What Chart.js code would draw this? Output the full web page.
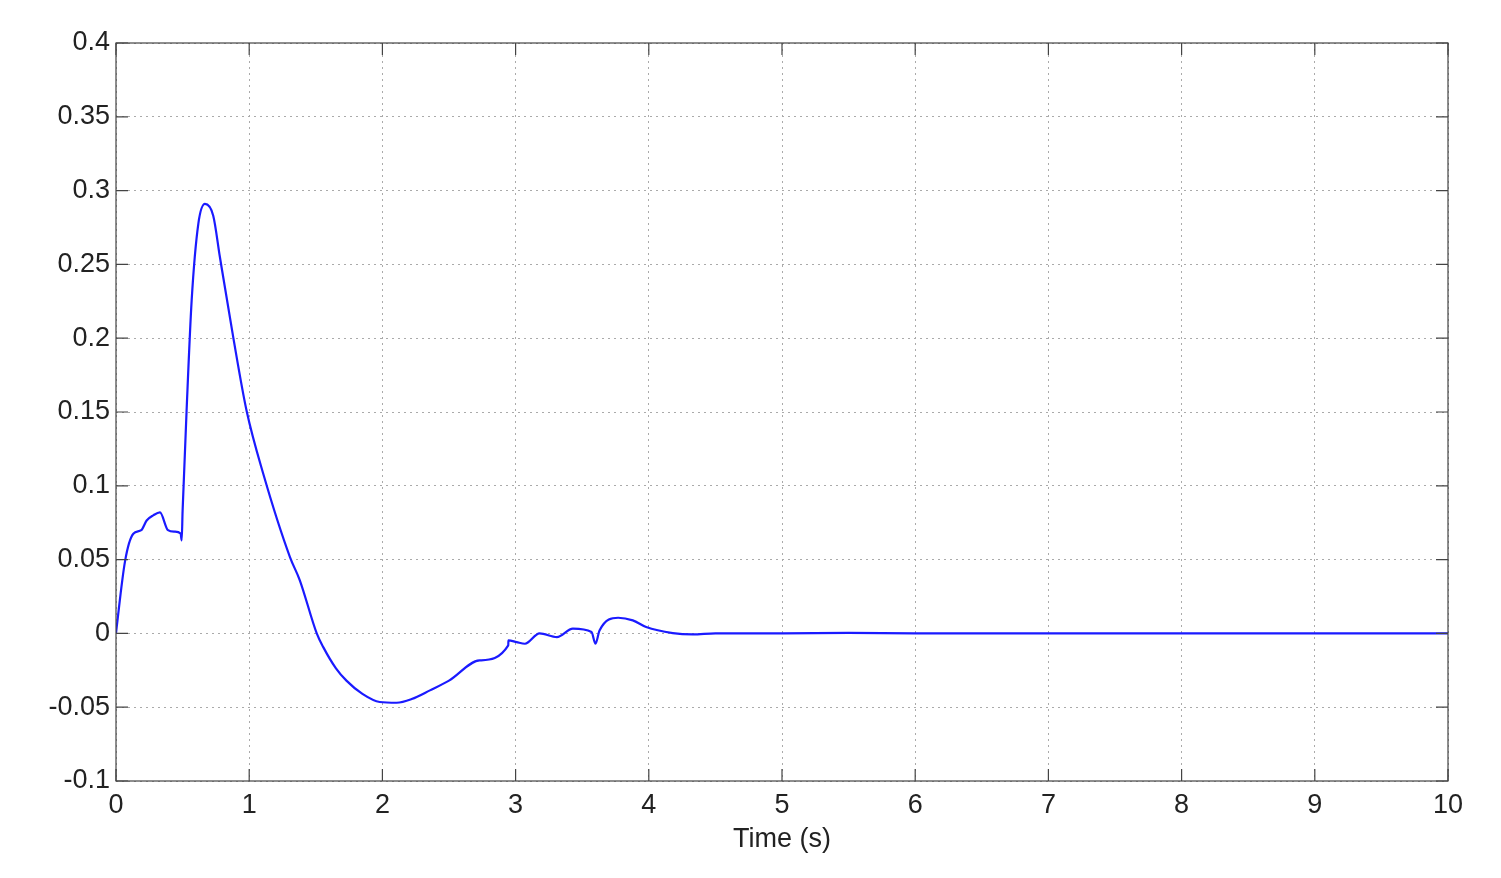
<!DOCTYPE html>
<html><head><meta charset="utf-8">
<script src="https://cdn.jsdelivr.net/npm/chart.js@4"></script>
<style>html,body{margin:0;padding:0;background:#fff}#w{width:1501px;height:878px}</style>
</head><body><div id="w"><canvas id="c"></canvas></div>
<script>
const timeS = [0,0.005,0.068,0.13,0.19,0.23,0.28,0.33,0.39,0.44,0.485,0.493,0.50,0.53,0.568,0.618,0.668,0.73,0.78,0.88,0.98,1.106,1.306,1.38,1.507,1.556,1.65,1.73,1.85,1.98,2.107,2.22,2.357,2.5,2.73,2.945,2.946,3.008,3.07,3.18,3.31,3.43,3.57,3.6,3.63,3.77,3.88,3.98,4.18,4.33,4.5,5,5.5,6,7,8,9,10];
const values = [0,0.004,0.049,0.0675,0.070,0.0765,0.080,0.082,0.070,0.069,0.0677,0.063,0.083,0.151,0.2256,0.2775,0.291,0.283,0.255,0.2007,0.151,0.108,0.0517,0.036,0,-0.0093,-0.0235,-0.032,-0.041,-0.0465,-0.047,-0.0445,-0.0386,-0.032,-0.0183,-0.0081,-0.0047,-0.0059,-0.007,0,-0.0025,0.0032,0.0009,-0.007,0.002,0.0106,0.0088,0.0043,0.0002,-0.0007,0,0,0.0003,0,0,0,0,0];
const xTicks = [0,1,2,3,4,5,6,7,8,9,10];
const yTicks = [-0.1,-0.05,0,0.05,0.1,0.15,0.2,0.25,0.3,0.35,0.4];
const font = {family:'"Liberation Sans", Arial, sans-serif', size:27};
const frame = {id:'frame', afterDraw(ch){const a=ch.chartArea,c=ch.ctx;c.save();c.strokeStyle='#444';c.lineWidth=1.2;c.strokeRect(a.left,a.top,a.right-a.left,a.bottom-a.top);
 c.beginPath();
 for(const v of xTicks){const x=ch.scales.x.getPixelForValue(v);c.moveTo(x,a.bottom);c.lineTo(x,a.bottom-12);c.moveTo(x,a.top);c.lineTo(x,a.top+12);}
 for(const v of yTicks){const y=ch.scales.y.getPixelForValue(v);c.moveTo(a.left,y);c.lineTo(a.left+12,y);c.moveTo(a.right,y);c.lineTo(a.right-12,y);}
 c.stroke();c.restore();}};
new Chart(document.getElementById('c'),{type:'line',
 data:{datasets:[{data:timeS.map((t,i)=>({x:t,y:values[i]})),borderColor:'#1a1aff',borderWidth:2.2,pointRadius:0,cubicInterpolationMode:'monotone'}]},
 options:{responsive:true,maintainAspectRatio:false,animation:false,
  layout:{padding:{top:43,right:53,left:0,bottom:22}},
  plugins:{legend:{display:false},tooltip:{enabled:false}},
  scales:{
   x:{type:'linear',min:0,max:10,afterBuildTicks(s){s.ticks=xTicks.map(v=>({value:v}));},
      afterFit(s){s.height=75;},
      grid:{color:'#aaa',drawTicks:false},border:{display:false,dash:[2,4]},
      ticks:{color:'#222',font,padding:8,maxRotation:0,autoSkip:false},
      title:{display:true,text:'Time (s)',color:'#222',font,padding:{top:0,bottom:0}}},
   y:{type:'linear',min:-0.1,max:0.4,afterBuildTicks(s){s.ticks=yTicks.map(v=>({value:v}));},
      afterFit(s){s.width=116;},
      grid:{color:'#aaa',drawTicks:false},border:{display:false,dash:[2,4]},
      ticks:{color:'#222',font,padding:6,autoSkip:false,callback:v=>String(Math.round(v*100)/100)}}
  }},
 plugins:[frame]});
</script></body></html>
